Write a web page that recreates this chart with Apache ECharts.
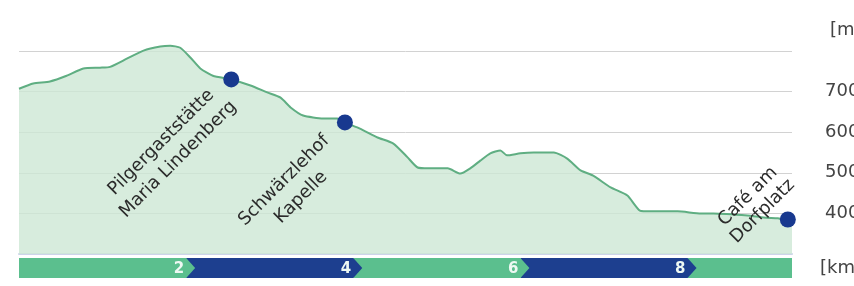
<!DOCTYPE html>
<html>
<head>
<meta charset="utf-8">
<script src="https://cdn.jsdelivr.net/npm/echarts@6/dist/echarts.min.js"></script>
<style>
  html, body { margin: 0; padding: 0; background: #fff; }
  #chart { width: 854px; height: 286px; }
</style>
</head>
<body>
<div id="chart"></div>
<script>
// Höhenprofil: Distanz [km] und Höhe [m]
const profileKm = [0.00, 0.17, 0.37, 0.57, 0.77, 0.97, 1.09, 1.29, 1.49, 1.69, 1.81, 1.93, 2.05, 2.17, 2.32, 2.54, 2.77, 2.97, 3.13, 3.25, 3.40, 3.64, 3.81, 3.90, 4.08, 4.29, 4.48, 4.65, 4.77, 4.90, 5.13, 5.28, 5.40, 5.52, 5.64, 5.76, 5.84, 6.00, 6.16, 6.40, 6.56, 6.72, 6.87, 7.08, 7.28, 7.43, 7.56, 7.88, 8.16, 8.31, 8.72, 8.91, 9.08, 9.20, 9.25];
const profileElev = [707, 720, 725, 739, 757, 759, 761, 781, 801, 811, 813, 808, 784, 757, 739, 730, 715, 698, 685, 661, 641, 634, 634, 624, 609, 587, 572, 538, 513, 511, 511, 498, 511, 530, 548, 555, 543, 548, 550, 550, 535, 506, 493, 464, 444, 407, 405, 405, 400, 400, 395, 390, 388, 385, 385];

// Stationen
const stopNames = ["Pilgergaststätte\nMaria Lindenberg", "Schwärzlehof\nKapelle", "Café am\nDorfplatz"];
const stopKm = [2.54, 3.90, 9.20];
const stopElev = [730, 624, 385];

// km-Leiste
const kmTicks = [2, 4, 6, 8];
const kmMax = 9.25;
const elevTicks = [400, 500, 600, 700];

// label placement (rotated frame), not data
const labelOffsets = [[-94, 7], [-84, 10], [-12, -34]];
const labelLineHeights = [24, 24, 21];

const green = "#5bbf8e";
const blue = "#1d3f8f";

const segBounds = [0].concat(kmTicks, [kmMax]);
const segData = [];
for (let i = 0; i < segBounds.length - 1; i++) {
  segData.push([segBounds[i], segBounds[i + 1], i < kmTicks.length ? String(kmTicks[i]) : ""]);
}

const chart = echarts.init(document.getElementById("chart"));

const option = {
  animation: false,
  textStyle: { fontFamily: "DejaVu Sans" },
  grid: [
    { left: 19, right: 62, top: 51, bottom: 32, outerBoundsMode: "none", containLabel: false },
    { left: 19, right: 62, top: 258, height: 20, outerBoundsMode: "none", containLabel: false }
  ],
  graphic: [
    {
      type: "text", left: 830, top: 21,
      style: { text: "[m]", font: "18px DejaVu Sans", fill: "#444" }
    }
  ],
  xAxis: [
    {
      type: "value", min: 0, max: kmMax,
      axisLine: { show: true, lineStyle: { color: "#cdd4ea", width: 2 } },
      axisTick: { show: false }, axisLabel: { show: false }, splitLine: { show: false }
    },
    { type: "value", gridIndex: 1, min: 0, max: kmMax, show: false }
  ],
  yAxis: [
    {
      type: "value", position: "right", min: 300, max: 800, interval: 100,
      axisLine: { show: false }, axisTick: { show: false },
      axisLabel: {
        margin: 33, fontSize: 18, color: "#444",
        formatter: (v) => (elevTicks.indexOf(v) >= 0 ? String(v) : "")
      },
      splitLine: { lineStyle: { color: "#d2d2d2", width: 1 } }
    },
    {
      type: "value", gridIndex: 1, position: "right", min: 0, max: 1,
      name: "[km]", nameLocation: "middle", nameRotate: 0, nameGap: 28,
      nameTextStyle: { align: "left", verticalAlign: "middle", fontSize: 18, color: "#444" },
      axisLine: { show: false }, axisTick: { show: false }, axisLabel: { show: false }, splitLine: { show: false }
    }
  ],
  series: [
    {
      type: "line",
      data: profileKm.map((k, i) => [k, profileElev[i]]),
      smooth: 0.2,
      clip: false,
      showSymbol: false,
      lineStyle: { color: "#5fae82", width: 2 },
      areaStyle: { color: "#cde7d5", opacity: 0.8 },
      z: 2
    },
    {
      type: "scatter",
      data: stopKm.map((k, i) => ({
        value: [k, stopElev[i]],
        label: { offset: labelOffsets[i], lineHeight: labelLineHeights[i] }
      })),
      symbolSize: 16,
      clip: false,
      itemStyle: { color: "#18398f", opacity: 1 },
      label: {
        show: true,
        position: "inside",
        rotate: 45,
        align: "center",
        verticalAlign: "middle",
        fontSize: 18,
        color: "#2b2b2b",
        formatter: (p) => stopNames[p.dataIndex]
      },
      z: 5
    },
    {
      type: "custom",
      xAxisIndex: 1,
      yAxisIndex: 1,
      data: segData,
      encode: { x: [0, 1] },
      renderItem: function (params, api) {
        const idx = params.dataIndex;
        const pTop = api.coord([api.value(0), 1]);
        const pBot = api.coord([api.value(1), 0]);
        const x0 = pTop[0], x1 = pBot[0];
        const top = pTop[1], bot = pBot[1], mid = (top + bot) / 2;
        const last = idx === segData.length - 1;
        const tip = last ? 0 : 9;
        const color = idx % 2 === 0 ? green : blue;
        const children = [{
          type: "polygon",
          z2: 50 - idx * 2,
          shape: { points: [[x0, top], [x1, top], [x1 + tip, mid], [x1, bot], [x0, bot]] },
          style: { fill: color }
        }];
        const txt = segData[idx][2];
        if (txt) {
          children.push({
            type: "text",
            z2: 100,
            style: {
              text: txt, x: x1 - 2, y: mid + 1,
              align: "right", verticalAlign: "middle",
              fill: "#eef8f3", font: "bold 15px DejaVu Sans"
            }
          });
        }
        return { type: "group", children: children };
      }
    }
  ]
};

chart.setOption(option);
</script>
</body>
</html>
